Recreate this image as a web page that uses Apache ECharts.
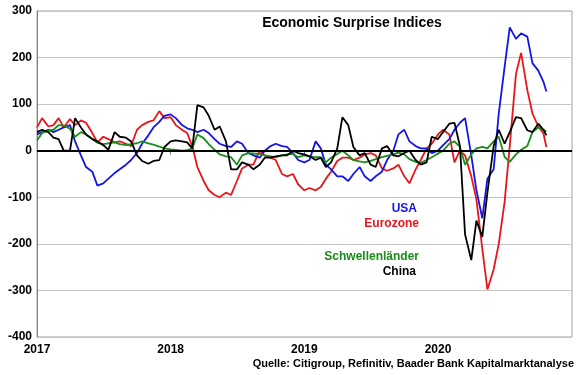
<!DOCTYPE html>
<html>
<head>
<meta charset="utf-8">
<script src="https://cdn.jsdelivr.net/npm/echarts@6/dist/echarts.min.js"></script>
<style>
  html, body { margin: 0; padding: 0; background: #fff; }
  #main { width: 580px; height: 375px; }
</style>
</head>
<body>
<div id="main"></div>
<script>
// Stichtage (halbmonatlich), letzter Wert Ende Oktober 2020
var dates = [
  '2017-01-01','2017-01-15','2017-02-01','2017-02-15','2017-03-01','2017-03-15','2017-04-01','2017-04-15',
  '2017-05-01','2017-05-15','2017-06-01','2017-06-15','2017-07-01','2017-07-15','2017-08-01','2017-08-15',
  '2017-09-01','2017-09-15','2017-10-01','2017-10-15','2017-11-01','2017-11-15','2017-12-01','2017-12-15',
  '2018-01-01','2018-01-15','2018-02-01','2018-02-15','2018-03-01','2018-03-15','2018-04-01','2018-04-15',
  '2018-05-01','2018-05-15','2018-06-01','2018-06-15','2018-07-01','2018-07-15','2018-08-01','2018-08-15',
  '2018-09-01','2018-09-15','2018-10-01','2018-10-15','2018-11-01','2018-11-15','2018-12-01','2018-12-15',
  '2019-01-01','2019-01-15','2019-02-01','2019-02-15','2019-03-01','2019-03-15','2019-04-01','2019-04-15',
  '2019-05-01','2019-05-15','2019-06-01','2019-06-15','2019-07-01','2019-07-15','2019-08-01','2019-08-15',
  '2019-09-01','2019-09-15','2019-10-01','2019-10-15','2019-11-01','2019-11-15','2019-12-01','2019-12-15',
  '2020-01-01','2020-01-15','2020-02-01','2020-02-15','2020-03-01','2020-03-15','2020-04-01','2020-04-15',
  '2020-05-01','2020-05-15','2020-06-01','2020-06-15','2020-07-01','2020-07-15','2020-08-01','2020-08-15',
  '2020-09-01','2020-09-15','2020-10-01','2020-10-15','2020-10-23'
];

// USA
var usa = [
  35, 40, 45, 40, 45, 50, 55, 20, -10, -35, -45, -75,
  -70, -60, -48, -40, -30, -20, -5, 15, 33, 50, 62, 75,
  78, 70, 55, 48, 45, 40, 45, 38, 25, 15, 10, 8,
  20, 15, -5, -10, -15, 0, 10, 15, 10, 8, -5, -20,
  -25, -20, 20, 5, -30, -40, -55, -55, -65, -50, -35, -55,
  -65, -55, -45, -20, 0, 35, 45, 20, 10, 5, 5, -5,
  0, 12, 25, 45, 60, 70, -10, -85, -145, -60, -40, 80,
  180, 265, 240, 252, 245, 188, 172, 148, 127
];

// Eurozone
var eurozone = [
  50, 70, 52, 55, 70, 50, 68, 55, 65, 60, 38, 18,
  30, 25, 18, 20, 15, 10, 45, 55, 62, 65, 85, 70,
  72, 55, 45, 38, 10, -35, -65, -85, -95, -100, -90, -95,
  -65, -38, -30, -30, 0, -10, -15, -20, -50, -55, -50, -72,
  -85, -80, -85, -78, -60, -45, -22, -15, -15, -20, -15, -8,
  -5, -10, -38, -43, -38, -30, -55, -70, -40, -20, 5, 15,
  35, 45, 35, -25, 0, -10, -55, -105, -210, -298, -255, -200,
  -110, 10, 165, 210, 130, 80, 52, 37, 8
];

// Schwellenländer
var schwellen = [
  22, 38, 43, 45, 55, 54, 47, 30, 40, 35, 25, 17,
  14, 16, 18, 14, 12, 14, 16, 20, 16, 13, 9, 5,
  3, 2, 0, 1, 5, 35, 27, 14, 2, -8, -12, -14,
  -30, -10, -5, -6, -7, -10, -12, -14, -10, -8, -7, -14,
  -10, -12, -14, -14, -25, -15, -7, 0, -10, -20, -23, -25,
  -22, -18, -14, -11, -8, -4, -8, -18, -24, -26, -20, -14,
  -6, 0, 15, 20, 8, -30, -8, 5, 8, 5, 20, 30,
  -13, -24, -8, 2, 10, 40, 50, 45, 41
];

// China
var china = [
  40, 45, 40, 28, 25, 0, 0, 70, 50, 35, 25, 20,
  12, 2, 40, 30, 28, 20, -10, -22, -28, -22, -20, 8,
  20, 22, 20, 18, 5, 98, 93, 75, 45, 52, 20, -40,
  -40, -25, -30, -40, -30, -15, -15, -12, -10, -10, 0, -5,
  -8, -12, -20, -15, -35, -25, 5, 72, 55, 8, -10, -5,
  -30, -35, 5, 10, -10, -12, -5, 0, -20, -30, -25, 30,
  25, 40, 58, 60, 10, -180, -235, -150, -185, -90, 10, 45,
  15, 40, 72, 70, 44, 40, 58, 45, 33
];

var yearTicks = [2017, 2018, 2019, 2020];

var FONT = 'Arial, "Liberation Sans", sans-serif';

function pairs(vals) {
  return vals.map(function (v, i) { return [Date.parse(dates[i]), v]; });
}
function yearStamp(y) { return Date.UTC(y, 0, 1); }

var myChart = echarts.init(document.getElementById('main'));

function lineSeries(name, color, vals) {
  return {
    name: name,
    type: 'line',
    data: pairs(vals),
    symbol: 'none',
    smooth: false,
    lineStyle: { color: color, width: 1.8 },
    itemStyle: { color: color },
    animation: false
  };
}

var series = [
  lineSeries('Eurozone', '#e8161b', eurozone),
  lineSeries('USA', '#1414e6', usa),
  lineSeries('Schwellenländer', '#1a8c1a', schwellen),
  lineSeries('China', '#000000', china)
];
// dicke Nulllinie
series[3].markLine = {
  silent: true,
  symbol: ['none', 'none'],
  label: { show: false },
  lineStyle: { color: '#000', width: 2, type: 'solid' },
  data: [{ yAxis: 0 }],
  animation: false
};

var option = {
  backgroundColor: '#fff',
  animation: false,
  grid: {
    left: 37, right: 8, top: 11, bottom: 38,
    show: true, borderColor: '#a0a0a0', borderWidth: 1
  },
  title: {
    text: 'Economic Surprise Indices',
    left: 347, top: 11, textAlign: 'center',
    textStyle: { fontFamily: FONT, fontSize: 14, fontWeight: 'bold', color: '#000' }
  },
  xAxis: {
    type: 'value',
    min: yearStamp(2017),
    max: yearStamp(2021),
    axisLine: { lineStyle: { color: '#808080', width: 1 } },
    axisTick: {
      show: true, length: 4, inside: false,
      customValues: yearTicks.map(yearStamp),
      lineStyle: { color: '#808080' }
    },
    axisLabel: {
      customValues: yearTicks.map(yearStamp),
      formatter: function (v) { return String(new Date(v).getUTCFullYear()); },
      fontFamily: FONT, fontSize: 12, fontWeight: 'bold', color: '#000', margin: 7
    },
    splitLine: { show: false }
  },
  yAxis: {
    type: 'value',
    min: -400, max: 300, interval: 100,
    axisLine: { show: true, lineStyle: { color: '#808080', width: 1 } },
    axisTick: { show: false },
    axisLabel: { fontFamily: FONT, fontSize: 12, fontWeight: 'bold', color: '#000', margin: 5 },
    splitLine: { lineStyle: { color: '#c4c4c4', width: 1 } }
  },
  graphic: [
    { type: 'text', right: 163, top: 203, style: { text: 'USA', fill: '#1414e6', font: 'bold 12px ' + FONT } },
    { type: 'text', right: 161, top: 218, style: { text: 'Eurozone', fill: '#e8161b', font: 'bold 12px ' + FONT } },
    { type: 'text', right: 161, top: 251, style: { text: 'Schwellenländer', fill: '#1a8c1a', font: 'bold 12px ' + FONT } },
    { type: 'text', right: 164, top: 266, style: { text: 'China', fill: '#000', font: 'bold 12px ' + FONT } },
    { type: 'text', right: 6, top: 358, style: { text: 'Quelle: Citigroup, Refinitiv, Baader Bank Kapitalmarktanalyse', fill: '#000', font: 'bold 11px ' + FONT } }
  ],
  series: series
};

myChart.setOption(option);
</script>
</body>
</html>
